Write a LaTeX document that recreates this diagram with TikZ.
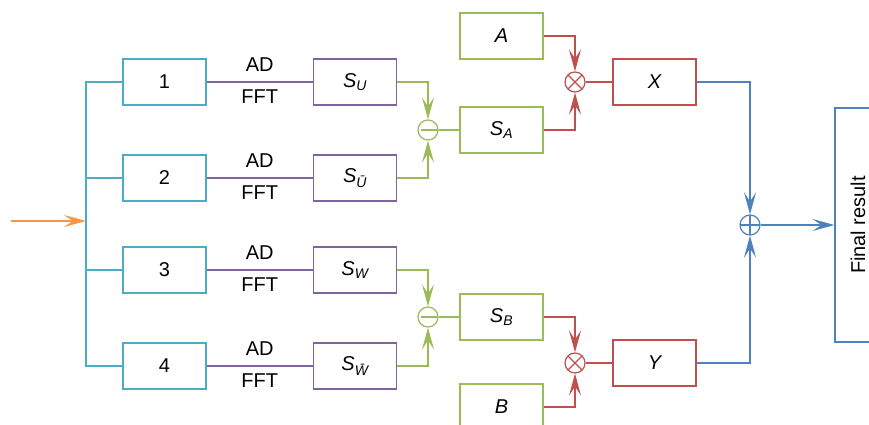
\documentclass[tikz,border=0pt]{standalone}
\usepackage{fontspec}
\setmainfont{Liberation Sans}
\usetikzlibrary{arrows.meta}
\definecolor{cyanc}{HTML}{4BACC6}
\definecolor{purc}{HTML}{8064A2}
\definecolor{grnc}{HTML}{9BBB59}
\definecolor{redc}{HTML}{C0504D}
\definecolor{bluc}{HTML}{4F81BD}
\definecolor{orac}{HTML}{F79646}
\begin{document}
\begin{tikzpicture}[x=1pt,y=-1pt, line width=1.2pt,
  box/.style={draw, rectangle, minimum width=83pt, minimum height=46pt, inner sep=0pt, text=black, font=\fontsize{20}{24}\selectfont},
  tip/.style={-{Stealth[length=22pt,width=12pt,inset=9pt]}},
  op/.style={draw, circle, minimum size=20pt, inner sep=0pt},
  lbl/.style={font=\fontsize{20}{24}\selectfont, inner sep=0pt, text=black},
  minus/.style={path picture={\draw[#1] ([xshift=3pt]path picture bounding box.west) -- (path picture bounding box.east);}},
  times/.style={path picture={\draw[#1] (path picture bounding box.center) +(45:10pt) -- +(225:10pt) (path picture bounding box.center) +(135:10pt) -- +(-45:10pt);}},
  plus/.style={path picture={\draw[#1] (path picture bounding box.west) -- (path picture bounding box.east) (path picture bounding box.north) -- (path picture bounding box.south);}}
]
\useasboundingbox (0,0) rectangle (869,425);
\clip (0,0) rectangle (869,425);

% input boxes
\node[box, draw=cyanc] (n1) at (164.5,82) {1};
\node[box, draw=cyanc] (n2) at (164.5,178) {2};
\node[box, draw=cyanc] (n3) at (164.5,270) {3};
\node[box, draw=cyanc] (n4) at (164.5,366) {4};

% spectrum boxes
\node[box, draw=purc] (su) at (355,82) {\itshape S\textsubscript{U}};
\node[box, draw=purc] (sub) at (355,178) {\itshape S\textsubscript{\=U}};
\node[box, draw=purc] (sw) at (355,270) {\itshape S\textsubscript{W}};
\node[box, draw=purc] (swb) at (355,366) {\itshape S\textsubscript{W^^^^0304}};

% operators
\node[op, draw=grnc, minus=grnc] (m1) at (428,130) {};
\node[op, draw=grnc, minus=grnc] (m2) at (428,317) {};
\node[op, draw=redc, times=redc] (x1) at (575,82) {};
\node[op, draw=redc, times=redc] (x2) at (575,363) {};
\node[op, draw=bluc, plus=bluc] (p) at (750,225) {};

% green boxes
\node[box, draw=grnc] (sa) at (501.5,130) {\itshape S\textsubscript{A}};
\node[box, draw=grnc] (sb) at (501.5,317) {\itshape S\textsubscript{B}};
\node[box, draw=grnc] (a) at (501.5,36) {\itshape A};
\node[box, draw=grnc] (b) at (501.5,407) {\itshape B};

% red boxes
\node[box, draw=redc] (xx) at (654.5,82) {\itshape X};
\node[box, draw=redc] (yy) at (654.5,363) {\itshape Y};

% final
\node[box, draw=bluc, minimum width=46pt, minimum height=234pt] (fin) at (858,225) {\rotatebox{90}{Final result}};

% cyan bus
\coordinate (bt) at (86,82);
\coordinate (bb) at (86,366);
\coordinate (src) at (11,221);
\draw[cyanc] (n1.west) -- (bt) -- (bb) -- (n4.west);
\draw[cyanc] (n2.west) -- (n2.west -| bt);
\draw[cyanc] (n3.west) -- (n3.west -| bt);
\draw[orac, tip] (src) -- (src -| bt);

% purple links
\foreach \i/\s in {n1/su, n2/sub, n3/sw, n4/swb}{
  \draw[purc] (\i.east) -- node[lbl, above=10pt]{AD} node[lbl, below=7pt]{FFT} (\s.west);
}

% green
\draw[grnc, tip] (su.east) -| (m1.north);
\draw[grnc, tip] (sub.east) -| (m1.south);
\draw[grnc] (m1.east) -- (sa.west);
\draw[grnc, tip] (sw.east) -| (m2.north);
\draw[grnc, tip] (swb.east) -| (m2.south);
\draw[grnc] (m2.east) -- (sb.west);

% red
\draw[redc, tip] (a.east) -| (x1.north);
\draw[redc, tip] (sa.east) -| (x1.south);
\draw[redc] (x1.east) -- (xx.west);
\draw[redc, tip] (sb.east) -| (x2.north);
\draw[redc, tip] (b.east) -| (x2.south);
\draw[redc] (x2.east) -- (yy.west);

% blue
\draw[bluc, tip] (xx.east) -| (p.north);
\draw[bluc, tip] (yy.east) -| (p.south);
\draw[bluc, tip] (p.east) -- (fin.west);
\end{tikzpicture}
\end{document}
